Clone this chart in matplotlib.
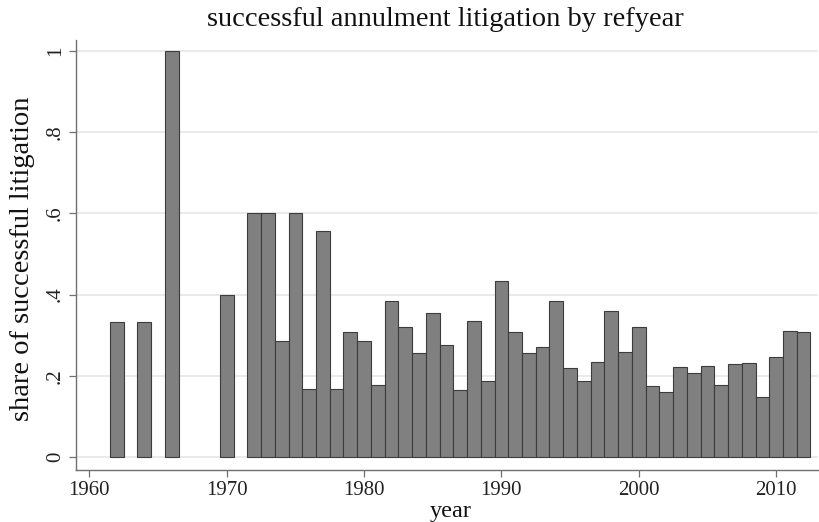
import matplotlib
matplotlib.use("Agg")
import matplotlib.pyplot as plt

# Share of successful annulment litigation per reference year
years = [1962, 1964, 1966, 1970, 1972, 1973, 1974, 1975, 1976, 1977,
         1978, 1979, 1980, 1981, 1982, 1983, 1984, 1985, 1986, 1987,
         1988, 1989, 1990, 1991, 1992, 1993, 1994, 1995, 1996, 1997,
         1998, 1999, 2000, 2001, 2002, 2003, 2004, 2005, 2006, 2007,
         2008, 2009, 2010, 2011, 2012]
share = [0.333, 0.333, 1.0, 0.4, 0.6, 0.6, 0.286, 0.6, 0.167, 0.556,
         0.167, 0.307, 0.286, 0.178, 0.385, 0.321, 0.257, 0.355, 0.275, 0.165,
         0.336, 0.187, 0.433, 0.308, 0.255, 0.272, 0.383, 0.218, 0.188, 0.235,
         0.360, 0.259, 0.319, 0.176, 0.159, 0.222, 0.208, 0.223, 0.178, 0.229,
         0.232, 0.149, 0.247, 0.310, 0.308]

x_ticks = [1960, 1970, 1980, 1990, 2000, 2010]
y_ticks = [0, 0.2, 0.4, 0.6, 0.8, 1.0]
y_tick_labels = ["0", ".2", ".4", ".6", ".8", "1"]

plt.rcParams["font.family"] = ["Liberation Serif", "DejaVu Serif"]

fig = plt.figure(figsize=(8.2, 5.22), dpi=100)
fig.patch.set_facecolor("white")
ax = fig.add_axes([0.0927, 0.0996, 0.9049, 0.8238])

ax.bar(years, share, width=1.0, color="#808080", edgecolor="#3c3c3c",
       linewidth=0.8, zorder=3)

ax.set_xlim(1959.03, 2013.05)
ax.set_ylim(-0.032, 1.027)

ax.set_yticks(y_ticks)
ax.set_yticklabels(y_tick_labels, rotation=90, va="center")
ax.set_xticks(x_ticks)
ax.yaxis.grid(True, color="#e6e6e6", linewidth=1.2, zorder=0)
ax.set_axisbelow(True)

for side in ("top", "right"):
    ax.spines[side].set_visible(False)
for side in ("left", "bottom"):
    ax.spines[side].set_color("#707070")
    ax.spines[side].set_linewidth(1.0)

ax.tick_params(axis="both", direction="out", length=5, width=0.9,
               color="#707070", labelsize=15, labelcolor="#222222")
ax.tick_params(axis="y", pad=3)
ax.tick_params(axis="x", pad=3)

fig.text(0.55, 0.021, "year", ha="center", va="center",
         fontsize=17.5, color="#111111")
fig.text(0.028, 0.505, "share of successful litigation", ha="center",
         va="center", rotation=90, fontsize=20.5, color="#111111")
fig.text(0.543, 0.962, "successful annulment litigation by refyear",
         ha="center", va="center", fontsize=20.5, color="#111111")

fig.savefig("out.png", dpi=100, facecolor="white")
